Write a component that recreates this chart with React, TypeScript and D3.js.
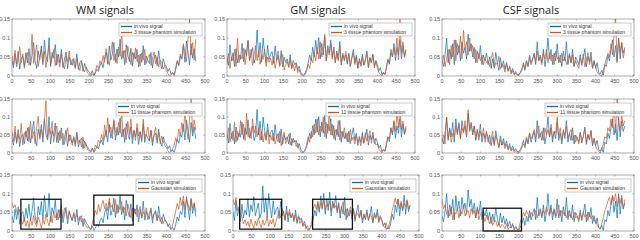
import React from "react";
import * as d3 from "d3";

// signal values in units of 1/1000, one sample every 4 time points
const step = 4;
const titles = ["WM signals", "GM signals", "CSF signals"];
const vivoLabel = "in vivo signal";
const simLabels = ["3 tissue phantom simulation", "11 tissue phantom simulation", "Gaussian simulation"];
const xTicks = [0, 50, 100, 150, 200, 250, 300, 350, 400, 450, 500];
const yTicks = [0, 0.05, 0.1, 0.15];

const wmVivo = [40,22,58,31,65,18,47,52,26,61, 34,72,28,55,88,37,20,66,43,79, 30,95,52,38,101,25,62,47,83,29, 57,35,70,22,44,63,19,51,38,28, 46,24,58,17,36,41,12,33,22,16, 10,4,14,2,8,18,12,27,35,22, 48,63,31,79,42,58,88,36,71,50, 97,44,66,30,82,55,38,73,26,61, 45,70,24,58,36,80,29,52,41,33, 62,21,48,55,27,66,34,19,45,30, 25,12,20,4,9,2,16,38,27,52, 44,80,36,92,61,30,85,47,72,39];
const wm3 = [52,30,68,24,43,77,35,58,20,49, 62,28,45,110,33,57,82,25,49,71, 38,65,22,54,80,31,47,69,27,58, 42,24,60,35,18,52,38,66,29,44, 33,19,47,25,14,38,20,11,24,8, 3,0,6,1,12,28,19,40,31,54, 36,72,45,28,64,90,41,57,33,76, 52,118,47,68,35,79,58,30,62,44, 74,38,55,26,61,42,70,33,48,57, 28,46,63,32,51,24,42,35,18,29, 14,6,0,3,9,2,22,41,30,58, 47,85,62,38,96,150,55,88,42,97];
const wm11 = [60,32,75,26,51,38,82,22,57,44, 70,31,88,40,59,26,74,102,38,66, 45,92,145,36,68,52,88,30,57,75, 28,62,40,55,24,47,70,33,50,21, 41,18,52,29,36,17,44,14,26,9, 7,2,11,4,22,14,36,28,52,33, 78,44,98,57,72,39,93,61,48,85, 55,120,46,70,37,88,52,95,41,64, 35,82,47,60,31,94,40,56,72,36, 64,30,52,71,36,56,25,47,33,20, 16,6,0,4,11,20,42,31,67,47, 84,60,112,71,38,94,150,57,92,63];
const wmGauss = [75,62,70,52,44,58,30,18,36,12, 28,9,34,15,41,22,12,38,25,8, 30,18,45,27,14,40,22,52,35,47, 30,58,43,36,62,48,33,55,40,28, 50,36,44,29,39,24,33,19,14,8, 10,4,20,38,55,44,71,52,68,82, 60,75,55,88,63,70,51,84,46,66, 57,79,48,63,40,72,55,35,61,47, 59,38,55,66,34,51,44,62,30,50, 56,34,46,51,29,42,25,36,20,31, 24,14,9,5,15,34,52,74,58,90, 68,94,57,84,72,55,88,61,76,52];

const gmVivo = [50,28,82,40,61,25,72,35,56,44, 86,38,70,52,92,41,58,75,34,48, 121,50,88,36,100,62,35,81,44,57, 64,33,79,41,54,28,67,24,49,36, 45,25,56,20,41,30,35,15,26,10, 5,2,9,18,34,55,40,76,50,94, 58,101,45,86,55,104,40,80,61,95, 49,76,35,66,45,91,30,60,40,56, 31,60,26,50,70,35,55,21,46,30, 57,28,44,66,22,49,37,58,26,41, 30,14,22,4,9,6,20,45,31,70, 50,86,41,75,55,96,45,80,52,68];
const gm3 = [30,60,20,50,40,70,25,100,35,55, 45,74,30,62,95,40,70,28,55,80, 40,65,31,56,44,71,25,50,36,47, 29,52,20,41,66,25,35,57,16,31, 38,22,48,19,30,14,33,9,17,4, 2,0,4,14,31,20,46,35,61,40, 75,45,90,50,65,110,40,70,55,85, 44,70,35,60,40,80,30,55,45,65, 35,55,25,46,60,30,50,20,40,25, 52,29,41,61,23,47,34,55,21,38, 20,9,4,0,8,3,25,40,35,60, 50,75,55,100,42,150,60,90,48,70];
const gm11 = [40,70,30,55,35,85,30,60,45,90, 50,80,35,110,45,70,40,95,55,75, 45,70,35,60,30,55,40,65,25,50, 35,55,25,45,30,60,20,42,58,26, 38,52,22,40,29,35,18,27,9,5, 0,3,10,25,45,30,60,45,80,55, 95,50,75,60,100,45,85,55,120,50, 80,40,65,50,90,35,60,45,70,40, 55,30,65,35,45,25,50,30,40,20, 48,26,57,33,44,62,27,49,35,22, 25,10,5,0,10,4,30,45,40,70, 55,90,60,110,70,130,65,88,52,75];
const gmGauss = [85,70,90,55,65,48,38,20,30,15, 25,10,32,18,8,27,14,35,20,9, 30,15,24,38,12,29,19,33,11,26, 42,55,36,60,45,30,52,40,58,35, 48,30,44,25,38,20,30,12,18,6, 14,4,10,28,60,72,58,80,55,76, 62,84,57,70,66,80,52,75,61,68, 55,72,47,63,78,42,60,36,52,65, 40,55,32,50,45,36,56,28,42,34, 50,30,46,38,26,42,33,48,22,36, 28,14,9,22,5,18,34,55,70,88, 72,86,60,80,55,74,66,84,58,70];

const csfVivo = [40,25,55,100,35,70,45,85,30,95, 55,80,40,90,60,75,45,110,65,85, 50,75,35,65,45,80,30,55,40,60, 30,50,20,45,25,62,35,15,48,22, 40,18,33,12,26,9,20,6,12,4, 3,10,20,35,15,40,25,55,30,45, 60,30,90,40,55,35,70,25,50,100, 45,70,30,60,40,85,35,55,25,65, 40,90,30,55,35,70,25,50,40,30, 56,28,47,72,24,51,38,63,20,41, 20,35,10,5,15,2,30,25,55,40, 70,95,50,80,35,100,45,88,60,75];
const csf3 = [35,55,25,45,70,30,80,50,95,40, 85,60,105,45,120,70,90,55,100,65, 80,45,70,35,60,40,55,30,45,35, 40,25,45,62,20,35,30,52,18,33, 27,10,36,15,22,5,14,3,8,2, 2,8,15,30,20,40,25,50,35,45, 55,35,65,40,50,30,60,45,70,35, 60,40,55,30,65,45,50,35,60,40, 50,30,45,60,35,55,25,40,30,20, 47,33,58,24,42,61,30,49,22,36, 25,10,5,2,0,15,30,45,60,50, 85,55,110,150,40,95,62,88,47,70];
const csf11 = [30,50,25,100,40,65,30,55,45,75, 50,85,40,70,55,90,45,120,60,80, 55,75,40,65,35,60,45,70,30,55, 45,25,40,60,20,48,35,15,38,22, 30,12,25,8,18,5,12,2,6,0, 0,5,15,25,20,45,30,55,40,50, 65,40,55,75,45,60,35,70,50,65, 45,80,40,60,55,100,45,70,35,60, 50,75,40,55,65,35,50,30,45,25, 58,32,46,67,28,52,36,60,24,40, 20,10,5,0,10,25,45,40,70,60, 95,70,140,55,150,80,62,104,75,90];
const csfGauss = [85,60,70,45,55,40,65,30,50,45, 60,35,55,45,70,40,50,55,35,60, 45,55,35,60,30,45,50,38,25,42, 30,20,38,15,25,28,12,22,9,18, 14,6,20,4,11,8,15,3,9,5, 5,25,35,50,40,55,45,35,50,40, 45,55,35,50,60,40,55,45,65,50, 40,60,45,55,35,50,70,40,55,45, 50,35,55,40,45,30,50,35,40,25, 48,31,52,37,44,28,50,33,41,26, 30,15,10,5,20,35,55,65,80,90, 70,95,80,100,65,90,74,96,58,84];

// highlighted windows in the Gaussian row: [t0, t1, yLow, yHigh]
const wmBoxes = [[23, 127, 0.005, 0.085], [212, 314, 0.016, 0.096]];
const gmBoxes = [[18, 131, 0.005, 0.085], [214, 321, 0.005, 0.085]];
const csfBoxes = [[107, 207, 0, 0.061]];

const vivoByCol = [wmVivo, gmVivo, csfVivo];
const simByCol = [[wm3, wm11, wmGauss], [gm3, gm11, gmGauss], [csf3, csf11, csfGauss]];
const boxesByCol = [wmBoxes, gmBoxes, csfBoxes];

const BLUE = "#0072BD";
const ORANGE = "#D95319";
const FONT = "'Liberation Sans', Arial, sans-serif";

const colX = [[12, 205], [227, 415], [442, 634]];
const rowY = [[19, 76], [99, 153], [175, 231]];
const legendW = [83, 86, 66];
const titleX = [105, 318, 531];

function Panel({ col, row }: { col: number; row: number }) {
  let [x0, x1] = colX[col];
  if (row === 2 && col === 1) { x0 = 233; x1 = 419; }
  const [y0, y1] = rowY[row];
  const x = d3.scaleLinear().domain([0, 500]).range([x0, x1]);
  const y = d3.scaleLinear().domain([0, 0.15]).range([y1, y0]);
  const line = d3.line<number>()
    .x((_, i) => x(i * step))
    .y((v) => y(v / 1000));
  const vivo = vivoByCol[col];
  const sim = simByCol[col][row];
  const lw = legendW[row];
  const lx = x1 - 3 - lw;
  const ly = y0 + 4;
  const clipId = `clip-${col}-${row}`;
  return (
    <g>
      <clipPath id={clipId}>
        <rect x={x0} y={y0 - 1} width={x1 - x0} height={y1 - y0 + 2} />
      </clipPath>
      <rect x={x0} y={y0} width={x1 - x0} height={y1 - y0} fill="#fff" />
      <g clipPath={`url(#${clipId})`}>
        <path d={line(vivo) ?? ""} fill="none" stroke={BLUE} strokeWidth={0.7} />
        <path d={line(sim) ?? ""} fill="none" stroke={ORANGE} strokeWidth={0.7} />
      </g>
      <rect x={x0} y={y0} width={x1 - x0} height={y1 - y0} fill="none" stroke="#777" strokeWidth={0.6} />
      {xTicks.map((t) => (
        <g key={"x" + t}>
          <line x1={x(t)} x2={x(t)} y1={y1} y2={y1 - 1.5} stroke="#777" strokeWidth={0.5} />
          <line x1={x(t)} x2={x(t)} y1={y0} y2={y0 + 1.5} stroke="#777" strokeWidth={0.5} />
          <text x={x(t)} y={y1 + 6.5} fontSize={5.5} fill="#555" textAnchor="middle" fontFamily={FONT}>{t}</text>
        </g>
      ))}
      {yTicks.map((t) => (
        <g key={"y" + t}>
          <line x1={x0} x2={x0 + 1.5} y1={y(t)} y2={y(t)} stroke="#777" strokeWidth={0.5} />
          <line x1={x1} x2={x1 - 1.5} y1={y(t)} y2={y(t)} stroke="#777" strokeWidth={0.5} />
          <text x={x0 - 2} y={y(t) + 2} fontSize={5.5} fill="#555" textAnchor="end" fontFamily={FONT}>{String(t)}</text>
        </g>
      ))}
      <rect x={lx} y={ly} width={lw} height={13} fill="#fff" stroke="#999" strokeWidth={0.5} />
      <line x1={lx + 2} x2={lx + 13} y1={ly + 3.5} y2={ly + 3.5} stroke={BLUE} strokeWidth={1.3} />
      <line x1={lx + 2} x2={lx + 13} y1={ly + 9.5} y2={ly + 9.5} stroke={ORANGE} strokeWidth={1.3} />
      <text x={lx + 15} y={ly + 5.3} fontSize={5} fill="#333" fontFamily={FONT}>{vivoLabel}</text>
      <text x={lx + 15} y={ly + 11.3} fontSize={5} fill="#333" fontFamily={FONT}>{simLabels[row]}</text>
      {row === 2 &&
        boxesByCol[col].map((b, i) => (
          <rect key={i} x={x(b[0])} y={y(b[3])} width={x(b[1]) - x(b[0])} height={y(b[2]) - y(b[3])}
            fill="none" stroke="#111" strokeWidth={1.3} />
        ))}
    </g>
  );
}

export default function App() {
  return (
    <svg width={640} height={240} style={{ position: "absolute", left: 0, top: 0, background: "#fff" }}>
      <rect width={640} height={240} fill="#fff" />
      {titles.map((t, c) => (
        <text key={t} x={titleX[c]} y={14} fontSize={11} textAnchor="middle" fill="#222" fontFamily="'Open Sans', 'Liberation Sans', sans-serif">{t}</text>
      ))}
      {[0, 1, 2].map((c) => [0, 1, 2].map((r) => <Panel key={c + "-" + r} col={c} row={r} />))}
    </svg>
  );
}
